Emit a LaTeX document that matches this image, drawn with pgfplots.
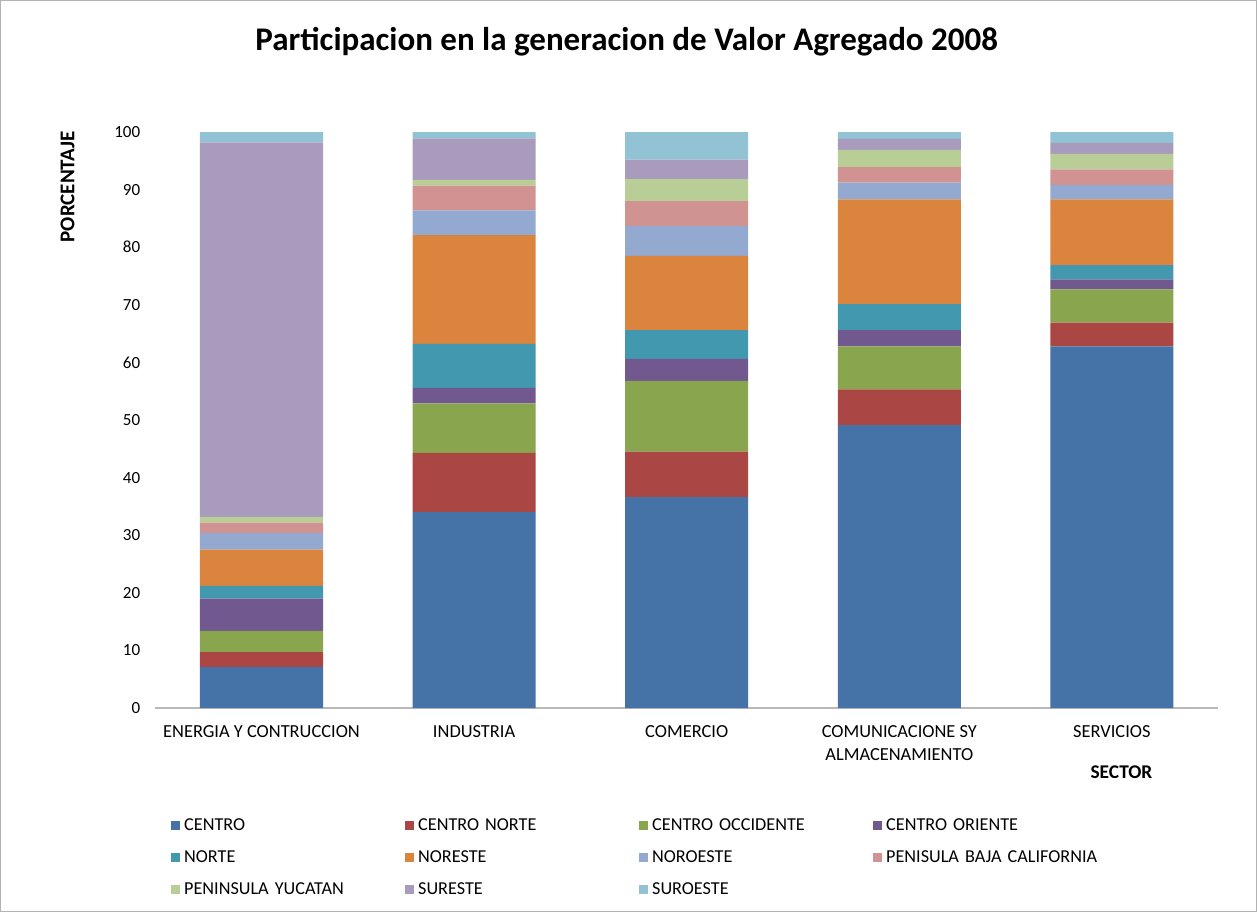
\documentclass[border=0pt]{standalone}
\usepackage{pgfplots}
\pgfplotsset{compat=1.18}
\usepackage{pgfplotstable}
\usepackage{fontspec}
\setmainfont{Carlito}
\definecolor{cA}{HTML}{4572A7}
\definecolor{cB}{HTML}{AA4643}
\definecolor{cC}{HTML}{89A54E}
\definecolor{cD}{HTML}{71588F}
\definecolor{cE}{HTML}{4198AF}
\definecolor{cF}{HTML}{DB843D}
\definecolor{cG}{HTML}{93A9CF}
\definecolor{cH}{HTML}{D19392}
\definecolor{cI}{HTML}{B9CD96}
\definecolor{cJ}{HTML}{A99BBD}
\definecolor{cK}{HTML}{91C3D5}
\pgfplotstableread{
x CE CN CO COr NO NE NW PBC PY SE SW
0 7.1 2.6 3.7 5.6 2.2 6.3 2.9 1.8 1.0 65.0 1.8
1 34.0 10.3 8.6 2.7 7.6 18.9 4.3 4.3 1.0 7.2 1.1
2 36.6 7.9 12.3 3.8 5.0 12.9 5.2 4.3 3.8 3.4 4.8
3 49.1 6.2 7.5 2.8 4.5 18.2 2.9 2.7 3.0 1.9 1.2
4 62.8 4.1 5.8 1.7 2.5 11.4 2.5 2.7 2.7 1.9 1.9
}\datatable
\begin{document}
\begin{tikzpicture}
\draw[gray!60, line width=0.6pt] (0.3pt,0.3pt) rectangle (628.2pt,455.7pt);
\begin{axis}[
  at={(77.6pt,102pt)}, anchor=south west,
  scale only axis, width=531.5pt, height=288pt,
  ybar stacked, bar width=61.5pt,
  xmin=-0.5, xmax=4.5, ymin=0, ymax=100,
  ytick={0,10,...,100},
  xtick={0,1,2,3,4},
  xticklabels={ENERGIA Y CONTRUCCION, INDUSTRIA, COMERCIO, {COMUNICACIONE SY\\ALMACENAMIENTO}, SERVICIOS},
  xticklabel style={align=center, font=\fontsize{9.2pt}{11.5pt}\selectfont, yshift=-5pt},
  yticklabel style={font=\fontsize{8.5pt}{9pt}\selectfont, xshift=-4pt},
  /pgf/number format/assume math mode=true,
  separate axis lines,
  axis x line*=bottom, axis y line*=left,
  y axis line style={draw=none},
  x axis line style={-, draw=gray!55, line width=0.8pt},
  tick style={draw=none},
  title={Participacion en la generacion de Valor Agregado 2008},
  every axis title/.style={at={(rel axis cs:0.4436,1.156)}, anchor=center, font=\fontsize{16.5pt}{18pt}\selectfont\bfseries},
  xlabel={SECTOR},
  every axis x label/.style={at={(rel axis cs:0.909,-0.111)}, anchor=center, font=\fontsize{9.7pt}{11pt}\selectfont\bfseries},
  ylabel={PORCENTAJE},
  every axis y label/.style={at={(rel axis cs:-0.0824,0.905)}, rotate=90, anchor=center, font=\fontsize{10.5pt}{12pt}\selectfont\bfseries},
  legend columns=4,
  legend style={at={(rel axis cs:0.009,-0.178)}, anchor=north west, draw=none,
    font=\fontsize{9.1pt}{10.5pt}\selectfont,
    nodes={text width=108.5pt, align=left, inner xsep=2pt},
    /tikz/every even column/.append style={column sep=0pt},
    row sep=4.5pt},
  legend image code/.code={\fill[#1] (0pt,-2pt) rectangle (4.5pt,2.5pt);},
]
\addplot[fill=cA, draw=none] table[x=x,y=CE]{\datatable};
\addplot[fill=cB, draw=none] table[x=x,y=CN]{\datatable};
\addplot[fill=cC, draw=none] table[x=x,y=CO]{\datatable};
\addplot[fill=cD, draw=none] table[x=x,y=COr]{\datatable};
\addplot[fill=cE, draw=none] table[x=x,y=NO]{\datatable};
\addplot[fill=cF, draw=none] table[x=x,y=NE]{\datatable};
\addplot[fill=cG, draw=none] table[x=x,y=NW]{\datatable};
\addplot[fill=cH, draw=none] table[x=x,y=PBC]{\datatable};
\addplot[fill=cI, draw=none] table[x=x,y=PY]{\datatable};
\addplot[fill=cJ, draw=none] table[x=x,y=SE]{\datatable};
\addplot[fill=cK, draw=none] table[x=x,y=SW]{\datatable};
\legend{CENTRO, CENTRO NORTE, CENTRO OCCIDENTE, CENTRO ORIENTE, NORTE, NORESTE, NOROESTE, PENISULA BAJA CALIFORNIA, PENINSULA YUCATAN, SURESTE, SUROESTE}
\end{axis}
\end{tikzpicture}
\end{document}
